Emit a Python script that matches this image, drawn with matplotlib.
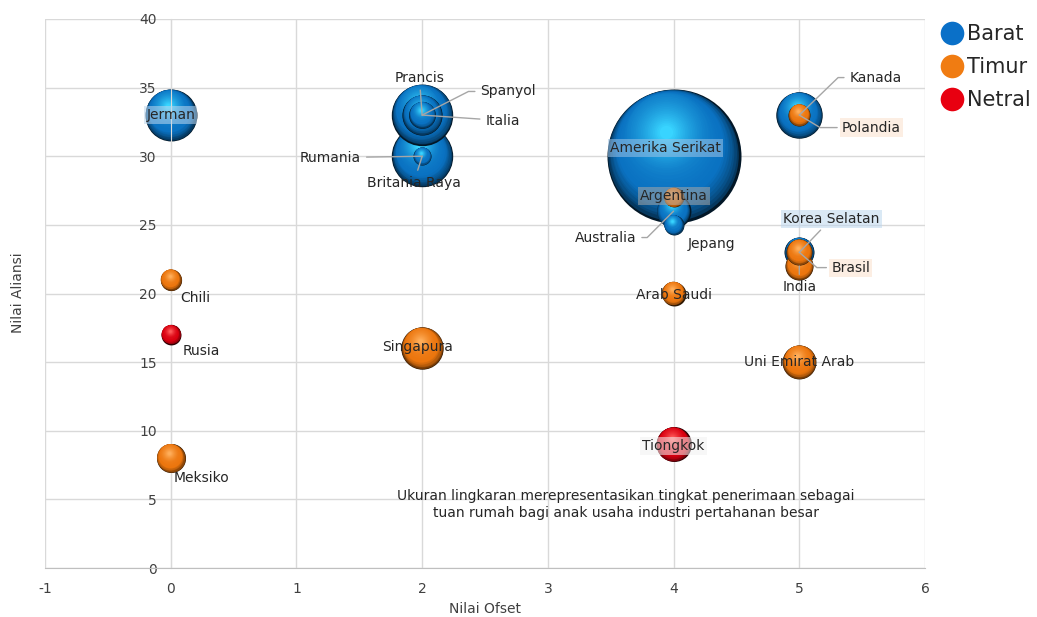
import numpy as np
import matplotlib
matplotlib.use('Agg')
import matplotlib.pyplot as plt
from matplotlib.colors import to_rgb
from matplotlib.transforms import ScaledTranslation
from matplotlib.lines import Line2D

# data
negara = ['Amerika Serikat', 'Prancis', 'Rumania', 'Jerman', 'Kanada', 'Singapura',
          'Spanyol', 'Tiongkok', 'Uni Emirat Arab', 'Australia', 'Korea Selatan',
          'Meksiko', 'India', 'Italia', 'Brasil', 'Arab Saudi', 'Polandia', 'Chili',
          'Argentina', 'Jepang', 'Rusia', 'Britania Raya']
ofset = [4, 2, 2, 0, 5, 2, 2, 4, 5, 4, 5, 0, 5, 2, 5, 4, 5, 0, 4, 4, 0, 2]
aliansi = [30, 33, 30, 33, 33, 16, 33, 9, 15, 26, 23, 8, 22, 33, 23, 20, 33, 21, 27, 25, 17, 30]
ukuran = [100, 21, 21, 15, 12, 10, 9, 6.8, 6.4, 6.4, 5, 4.7, 4.4, 4.0, 3.8, 3.2, 2.7, 2.5,
          2.2, 2.2, 2.2, 1.8]
blok = ['Barat', 'Barat', 'Barat', 'Barat', 'Barat', 'Timur', 'Barat', 'Netral', 'Timur',
        'Barat', 'Barat', 'Timur', 'Timur', 'Barat', 'Timur', 'Timur', 'Timur', 'Timur',
        'Timur', 'Barat', 'Netral', 'Barat']

warna = {'Barat': '#0A72C2', 'Timur': '#EC760E', 'Netral': '#DA0010'}
kilau = {'Barat': '#38D4FF', 'Timur': '#FFAE5A', 'Netral': '#FF5A5A'}
legenda = {'Barat': '#0A70C8', 'Timur': '#F07C12', 'Netral': '#E80010'}

# label layout: offset (points) from the bubble, leader line style, box colour
tata = {
    'Amerika Serikat': ((-6, 6), None, '#9DC3E6'),
    'Prancis': ((-2, 27), 'lurus', None),
    'Rumania': ((-66, -1), 'lurus', None),
    'Jerman': ((0, 0), None, '#BDD7EE'),
    'Kanada': ((55, 27), 44, None),
    'Singapura': ((-3, 1), None, None),
    'Spanyol': ((62, 17), 27, None),
    'Tiongkok': ((0, -1), None, '#F2F2F2'),
    'Uni Emirat Arab': ((0, 0), None, None),
    'Australia': ((-49, -19), 45, None),
    'Korea Selatan': ((23, 24), 'lurus', '#BDD7EE'),
    'Meksiko': ((22, -14), None, None),
    'India': ((0, -15), 'lurus', None),
    'Italia': ((58, -4), 'lurus', None),
    'Brasil': ((37, -11), -41, '#FBE0CC'),
    'Arab Saudi': ((0, -1), None, None),
    'Polandia': ((52, -9), -31, '#FBE0CC'),
    'Chili': ((18, -13), None, None),
    'Argentina': ((0, 1), None, '#A6A6A6'),
    'Jepang': ((27, -14), None, None),
    'Rusia': ((22, -12), None, None),
    'Britania Raya': ((-6, -19), 'lurus', None),
}

catatan = 'Ukuran lingkaran merepresentasikan tingkat penerimaan sebagai\ntuan rumah bagi anak usaha industri pertahanan besar'

plt.rcParams['font.family'] = ['DejaVu Sans']
plt.rcParams['axes.unicode_minus'] = False
fig = plt.figure(figsize=(10.37, 6.17), dpi=100)
ax = fig.add_axes([45 / 1037, 49 / 617, 880 / 1037, 549 / 617])
ax.set_xlim(-1, 6)
ax.set_ylim(0, 40)
ax.set_xticks(range(-1, 7))
ax.set_yticks(range(0, 41, 5))
ax.grid(True, color='#D9D9D9', lw=1)
ax.set_axisbelow(True)
for s in ['top', 'right']:
    ax.spines[s].set_visible(False)
ax.spines['left'].set_position(('data', 0))
ax.spines['left'].set_color('#D9D9D9')
ax.spines['bottom'].set_color('#BFBFBF')
ax.tick_params(length=0, labelsize=10, labelcolor='#404040')
ax.tick_params(axis='y', pad=10)
ax.tick_params(axis='x', pad=10)


def campur(a, b, t):
    return tuple(np.array(a) * (1 - t) + np.array(b) * t)


def bola(x, y, r, dasar, terang, z):
    # layered circles to fake a shaded sphere, light from upper left
    dasar = to_rgb(dasar)
    terang = to_rgb(terang)
    gelap = tuple(np.array(dasar) * 0.2)
    arah = np.array([-0.3, 0.95])
    arah = arah / np.linalg.norm(arah)
    n = 36
    for i in range(n):
        t = i / (n - 1)
        rr = r * (1 - 0.9 * t)
        geser = r * min(0.8 * t, 0.38)
        ox, oy = arah * geser
        if t < 0.22:
            c = campur(gelap, dasar, (t / 0.22) ** 0.5)
        else:
            c = campur(dasar, terang, ((t - 0.22) / 0.78) ** 1.6)
        tr = ax.transData + ScaledTranslation(ox / 100, oy / 100, fig.dpi_scale_trans)
        ax.scatter([x], [y], s=(2 * rr * 0.72) ** 2, color=c, lw=0,
                   transform=tr, zorder=z + i * 0.001)


urutan = np.argsort(ukuran)[::-1]
for k, idx in enumerate(urutan):
    r = 6.7 * np.sqrt(ukuran[idx])
    bola(ofset[idx], aliansi[idx], r, warna[blok[idx]], kilau[blok[idx]], 2 + k * 0.05)

for i, nama in enumerate(negara):
    (dx, dy), garis, kotak = tata[nama]
    bbox = None
    if kotak is not None:
        bbox = dict(boxstyle='square,pad=0.15', fc=kotak, ec='none', alpha=0.55)
    ap = None
    if garis == 'lurus':
        ap = dict(arrowstyle='-', color='#A6A6A6', lw=1, shrinkA=2, shrinkB=0)
    elif garis is not None:
        ap = dict(arrowstyle='-', color='#A6A6A6', lw=1, shrinkA=2, shrinkB=0,
                  connectionstyle='angle,angleA=0,angleB=%d,rad=0' % garis)
    ax.annotate(nama, (ofset[i], aliansi[i]), xytext=(dx, dy), textcoords='offset points',
                ha='center', va='center', fontsize=10, color='#262626', bbox=bbox,
                arrowprops=ap, zorder=10)

ax.text(3.62, 4.6, catatan, ha='center', va='center', fontsize=10, color='#262626',
        linespacing=1.25, zorder=10)

fig.text(18 / 1037, 1 - 293 / 617, 'Nilai Aliansi', rotation=90, ha='center', va='center',
         fontsize=10, color='#404040')
fig.text(485 / 1037, 1 - 609 / 617, 'Nilai Ofset', ha='center', va='center',
         fontsize=10, color='#404040')

tanda = [Line2D([], [], marker='o', ls='', ms=17, mfc=legenda[b], mec='none', label=b)
         for b in ['Barat', 'Timur', 'Netral']]
fig.legend(handles=tanda, loc='upper left', bbox_to_anchor=(928 / 1037, 1 - 14 / 617),
           frameon=False, fontsize=15, handletextpad=0.05, labelspacing=0.62,
           handlelength=1.3, borderpad=0, labelcolor='#262626')

fig.savefig('out.png', dpi=100)
